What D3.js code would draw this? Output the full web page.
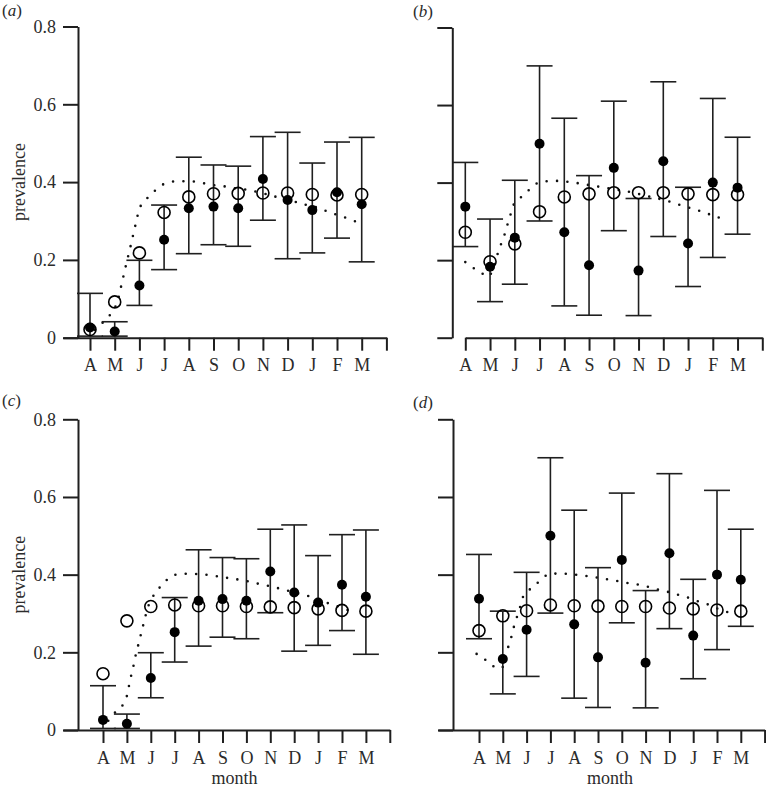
<!DOCTYPE html>
<html>
<head>
<meta charset="utf-8">
<script src="https://cdn.jsdelivr.net/npm/d3@7"></script>
<style>
  body { margin: 0; background: #fff; }
  text { font-family: "Liberation Serif", "Times New Roman", serif; fill: #2b2b2b; }
</style>
</head>
<body>
<div id="chart"></div>
<script>
// month ticks (April to March)
const months = ["A", "M", "J", "J", "A", "S", "O", "N", "D", "J", "F", "M"];
const yTicks = [0, 0.2, 0.4, 0.6, 0.8];

// observed prevalence with confidence limits, panels a and c
const obsAC  = [0.026, 0.016, 0.134, 0.252, 0.333, 0.337, 0.333, 0.408, 0.354, 0.328, 0.374, 0.343];
const lowAC  = [0.004, 0.004, 0.083, 0.175, 0.216, 0.239, 0.235, 0.302, 0.203, 0.218, 0.256, 0.195];
const highAC = [0.114, 0.041, 0.199, 0.341, 0.464, 0.444, 0.441, 0.517, 0.528, 0.449, 0.503, 0.515];

// observed prevalence with confidence limits, panels b and d
const obsBD  = [0.338, 0.183, 0.258, 0.500, 0.272, 0.187, 0.438, 0.173, 0.455, 0.243, 0.400, 0.387];
const lowBD  = [0.235, 0.093, 0.138, 0.301, 0.082, 0.058, 0.276, 0.057, 0.261, 0.132, 0.207, 0.267];
const highBD = [0.452, 0.306, 0.406, 0.701, 0.566, 0.418, 0.610, 0.359, 0.660, 0.388, 0.617, 0.517];

// model predictions (open circles)
const modelA = [0.021, 0.092, 0.218, 0.322, 0.362, 0.370, 0.371, 0.372, 0.372, 0.368, 0.367, 0.368];
const modelB = [0.272, 0.196, 0.242, 0.325, 0.363, 0.371, 0.374, 0.374, 0.374, 0.371, 0.369, 0.369];
const modelC = [0.145, 0.281, 0.318, 0.322, 0.320, 0.320, 0.318, 0.317, 0.315, 0.312, 0.308, 0.306];
const modelD = [0.256, 0.294, 0.307, 0.322, 0.320, 0.319, 0.318, 0.318, 0.314, 0.312, 0.309, 0.306];

// dotted curves, [month index, prevalence]
const curveA = [[0.2, 0.02], [0.6, 0.044], [0.9, 0.066], [1.1, 0.09], [1.2, 0.116], [1.3, 0.143],
  [1.4, 0.171], [1.5, 0.198], [1.6, 0.224], [1.7, 0.251], [1.8, 0.279], [1.9, 0.305], [2.0, 0.333],
  [2.25, 0.354], [2.55, 0.373], [2.9, 0.392], [3.3, 0.401], [3.7, 0.402], [4.15, 0.402], [4.6, 0.397],
  [5.0, 0.392], [5.45, 0.389], [5.9, 0.384], [6.3, 0.381], [6.75, 0.375], [7.2, 0.368], [7.6, 0.361],
  [8.45, 0.347], [8.9, 0.339], [9.3, 0.333], [9.7, 0.322], [10.1, 0.314], [10.5, 0.305], [10.95, 0.294]];
const curveB = [[0, 0.195], [0.35, 0.179], [0.73, 0.164], [0.95, 0.158], [1.15, 0.185], [1.29, 0.213],
  [1.43, 0.239], [1.58, 0.265], [1.7, 0.291], [1.83, 0.318], [1.97, 0.345], [2.28, 0.364], [2.61, 0.383],
  [2.95, 0.4], [3.39, 0.404], [3.85, 0.404], [4.27, 0.401], [4.7, 0.397], [5.13, 0.392], [5.55, 0.388],
  [5.98, 0.383], [6.41, 0.379], [6.86, 0.373], [7.29, 0.366], [7.7, 0.36], [8.11, 0.354], [8.54, 0.345],
  [8.95, 0.337], [9.37, 0.329], [9.78, 0.32], [10.2, 0.311], [10.63, 0.301]];
const curveC = [[0.22, 0.024], [0.53, 0.047], [0.85, 0.066], [1.02, 0.092], [1.1, 0.118], [1.2, 0.146],
  [1.3, 0.172], [1.39, 0.199], [1.51, 0.227], [1.62, 0.255], [1.73, 0.281], [1.9, 0.32], [2.22, 0.356],
  [2.52, 0.376], [2.85, 0.396], [3.26, 0.402], [3.71, 0.402], [4.15, 0.401], [4.62, 0.397], [5.06, 0.393],
  [5.49, 0.389], [5.97, 0.384], [6.4, 0.378], [6.85, 0.372], [7.27, 0.366], [7.71, 0.359], [8.15, 0.352],
  [8.59, 0.345], [9.01, 0.336], [9.44, 0.326], [9.89, 0.317], [10.31, 0.307]];
const curveD = [[-0.1, 0.196], [0.28, 0.18], [0.64, 0.163], [0.95, 0.159], [1.1, 0.185], [1.23, 0.214],
  [1.37, 0.242], [1.48, 0.269], [1.62, 0.296], [1.76, 0.323], [1.9, 0.349], [2.24, 0.367], [2.56, 0.384],
  [2.94, 0.402], [3.37, 0.402], [3.82, 0.402], [4.29, 0.398], [4.73, 0.395], [5.18, 0.39], [5.64, 0.386],
  [6.09, 0.38], [6.53, 0.376], [6.97, 0.371], [7.42, 0.363], [7.86, 0.357], [8.31, 0.349], [8.73, 0.342],
  [9.17, 0.332], [9.59, 0.324], [10.01, 0.313], [10.43, 0.304]];

const width = 766, height = 789;

const panels = [
  { tag: "a", tagX: 2, tagY: 16, yAxisX: 78, yTop: 26.5, yBase: 337.7, xStart: 63, x0: 90, step: 24.7,
    labels: true, title: false, obs: obsAC, low: lowAC, high: highAC, model: modelA, curve: curveA },
  { tag: "b", tagX: 413, tagY: 17, yAxisX: 452.3, yTop: 27.5, yBase: 337.7, xStart: 465.3, x0: 465.3, step: 24.75,
    labels: false, title: false, obs: obsBD, low: lowBD, high: highBD, model: modelB, curve: curveB },
  { tag: "c", tagX: 2, tagY: 406, yAxisX: 78, yTop: 419.3, yBase: 730, xStart: 63, x0: 103, step: 23.9,
    labels: true, title: true, obs: obsAC, low: lowAC, high: highAC, model: modelC, curve: curveC },
  { tag: "d", tagX: 413, tagY: 408, yAxisX: 453, yTop: 419.3, yBase: 730, xStart: 438, x0: 479, step: 23.8,
    labels: false, title: true, obs: obsBD, low: lowBD, high: highBD, model: modelD, curve: curveD }
];

const svg = d3.select("#chart").append("svg")
  .attr("width", width)
  .attr("height", height)
  .attr("viewBox", `0 0 ${width} ${height}`);

const ink = "#1f1f1f";

panels.forEach(p => {
  const g = svg.append("g").attr("class", "panel-" + p.tag);

  const y = d3.scaleLinear().domain([0, 0.8]).range([p.yBase, p.yTop]);
  const x = d3.scaleLinear()
    .domain([(p.xStart - p.x0) / p.step, 12])
    .range([p.xStart, p.x0 + 12 * p.step]);

  // y axis
  const yAxis = g.append("g")
    .attr("transform", `translate(${p.yAxisX},0)`)
    .call(d3.axisLeft(y)
      .tickValues(yTicks)
      .tickSize(15)
      .tickSizeOuter(0)
      .tickPadding(7)
      .tickFormat(d => p.labels ? (d === 0 ? "0" : d3.format(".1f")(d)) : ""));

  // x axis
  const xAxis = g.append("g")
    .attr("transform", `translate(0,${p.yBase})`)
    .call(d3.axisBottom(x)
      .tickValues(d3.range(13))
      .tickSize(13)
      .tickSizeOuter(0)
      .tickPadding(8)
      .tickFormat(i => months[i] || ""));

  [yAxis, xAxis].forEach(ax => {
    ax.select(".domain").attr("stroke", ink).attr("stroke-width", 2);
    ax.selectAll(".tick line").attr("stroke", ink).attr("stroke-width", 2);
    ax.selectAll(".tick text")
      .attr("fill", "#2b2b2b")
      .style("font-family", '"Liberation Serif", serif')
      .style("font-size", "18px");
  });

  if (p.labels) {
    g.append("text")
      .attr("transform", `translate(${p.yAxisX - 58},${(p.yBase + p.yTop) / 2}) rotate(-90)`)
      .attr("text-anchor", "middle")
      .attr("dy", "0.3em")
      .style("font-size", "18px")
      .text("prevalence");
  }

  if (p.title) {
    g.append("text")
      .attr("x", x(5.5))
      .attr("y", p.yBase + 54)
      .attr("text-anchor", "middle")
      .style("font-size", "18px")
      .text("month");
  }

  const tag = g.append("text")
    .attr("x", p.tagX)
    .attr("y", p.tagY)
    .style("font-size", "17px");
  tag.append("tspan").text("(");
  tag.append("tspan").style("font-style", "italic").text(p.tag);
  tag.append("tspan").text(")");

  // dotted curve
  const line = d3.line()
    .x(d => x(d[0]))
    .y(d => y(d[1]))
    .curve(d3.curveCatmullRom);

  g.append("path")
    .datum(p.curve)
    .attr("d", line)
    .attr("fill", "none")
    .attr("stroke", "#111")
    .attr("stroke-width", 2.6)
    .attr("stroke-linecap", "round")
    .attr("stroke-dasharray", "0 10.4");

  // error bars
  const idx = d3.range(months.length);
  const bars = g.append("g").selectAll("g")
    .data(idx)
    .join("g")
    .attr("stroke", ink)
    .attr("stroke-width", 1.6);

  bars.append("line")
    .attr("x1", i => x(i)).attr("x2", i => x(i))
    .attr("y1", i => y(p.low[i])).attr("y2", i => y(p.high[i]));
  bars.append("line")
    .attr("x1", i => x(i) - 13).attr("x2", i => x(i) + 13)
    .attr("y1", i => y(p.high[i])).attr("y2", i => y(p.high[i]));
  bars.append("line")
    .attr("x1", i => x(i) - 13).attr("x2", i => x(i) + 13)
    .attr("y1", i => y(p.low[i])).attr("y2", i => y(p.low[i]));

  // observed points
  g.append("g").selectAll("circle")
    .data(idx)
    .join("circle")
    .attr("cx", i => x(i))
    .attr("cy", i => y(p.obs[i]))
    .attr("r", 5)
    .attr("fill", "#000");

  // model points
  g.append("g").selectAll("circle")
    .data(idx)
    .join("circle")
    .attr("cx", i => x(i))
    .attr("cy", i => y(p.model[i]))
    .attr("r", 6)
    .attr("fill", "none")
    .attr("stroke", "#000")
    .attr("stroke-width", 1.6);
});
</script>
</body>
</html>
